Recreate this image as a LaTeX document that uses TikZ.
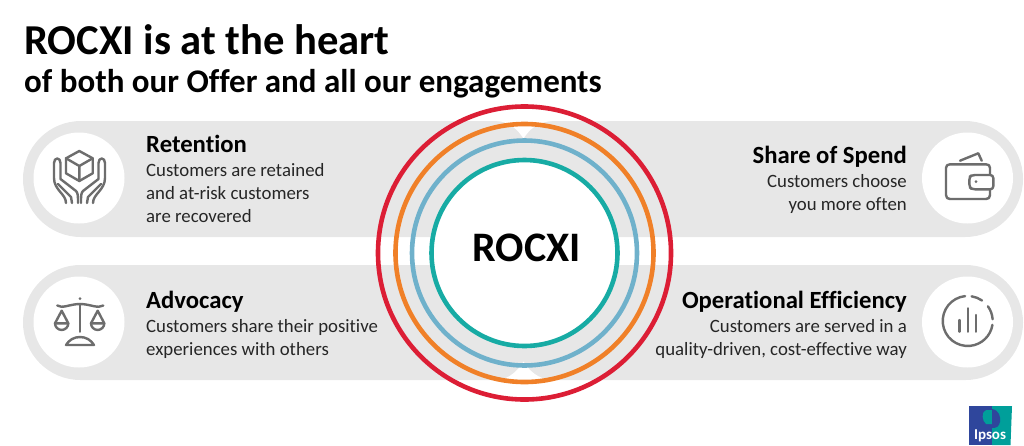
\documentclass[tikz,border=0pt]{standalone}
\usepackage{fontspec}
\setmainfont{Carlito}[Ligatures=NoCommon]
\definecolor{pillgray}{HTML}{E7E7E7}
\definecolor{icongray}{HTML}{6D6D6D}
\definecolor{ringred}{HTML}{DC1E35}
\definecolor{ringorange}{HTML}{F08028}
\definecolor{ringblue}{HTML}{6FB1CB}
\definecolor{ringteal}{HTML}{17ABA4}
\definecolor{ipblue}{HTML}{2F469C}
\definecolor{ipteal}{HTML}{009F9A}
\newcommand{\fsz}[2]{\fontsize{#1}{#2}\selectfont}
\tikzset{
  pill/.style={fill=pillgray},
  iconbg/.style={fill=white},
  icon/.style={draw=icongray,line width=2.4pt,line cap=round,line join=round},
  ring/.style={line width=4.6pt},
  headL/.style={anchor=base west,inner sep=0pt,font=\fsz{24.7}{28}\bfseries,text=black},
  headR/.style={anchor=base east,inner sep=0pt,font=\fsz{24.7}{28}\bfseries,text=black},
  bodyL/.style={anchor=north west,inner sep=0pt,align=left,font=\fsz{18.8}{23},text=black!85},
  bodyR/.style={anchor=north east,inner sep=0pt,align=right,font=\fsz{18.8}{23},text=black!85},
}
\begin{document}
\begin{tikzpicture}[x=1pt,y=-1pt]
\useasboundingbox (0,0) rectangle (1024,445);
% pills
\fill[pill] (23,179) arc[start angle=180,end angle=270,radius=58] -- (965,121) arc[start angle=270,end angle=450,radius=58] -- (81,237) arc[start angle=90,end angle=180,radius=58] -- cycle;
\fill[pill] (23,322.5) arc[start angle=180,end angle=270,radius=57.5] -- (965.5,265) arc[start angle=270,end angle=450,radius=57.5] -- (80.5,380) arc[start angle=90,end angle=180,radius=57.5] -- cycle;
% notches
\fill[white] (497,121) .. controls (510,122) and (518,130) .. (523.5,138.5) .. controls (529,130) and (537,122) .. (552,121) -- cycle;
\fill[white] (497,380) .. controls (510,379) and (518,370) .. (523.5,361.5) .. controls (529,370) and (537,379) .. (552,380) -- cycle;
% icon discs
\fill[iconbg] (79,178) circle[radius=45.5];
\fill[iconbg] (79,322) circle[radius=45.5];
\fill[iconbg] (967.5,178) circle[radius=45.5];
\fill[iconbg] (967.5,322) circle[radius=45.5];
% rings
\fill[white] (524.5,253) circle[radius=93];
\draw[ring,ringred] (524.5,253) circle[radius=146.5];
\draw[ring,ringorange] (524.5,253) circle[radius=129];
\draw[ring,ringblue] (524.5,253) circle[radius=112.5];
\draw[ring,ringteal] (524.5,253) circle[radius=93];
% retention icon
\draw[icon] (79.3,151) -- (92.7,158.3) -- (92.7,173.3) -- (79.3,181) -- (66,173.3) -- (66,158.3) -- cycle;
\draw[icon] (66,158.3) -- (79.3,166) -- (92.7,158.3) (79.3,166) -- (79.3,181);
\foreach \sx/\ox in {1/0,-1/159}{
\begin{scope}[xshift=\ox pt,xscale=\sx]
\draw[icon] (66,203) .. controls (66,194) and (54,190) .. (54,178) -- (54,163) .. controls (54,157) and (60.5,157) .. (60.5,163) -- (60.5,179) -- (76,191) .. controls (78,193) and (78,196) .. (78,203);
\draw[icon] (58,184) -- (71,197) -- (72,203);
\end{scope}}
% scale icon
\draw[icon] (57.3,305.5) .. controls (62,309) and (70,304) .. (80,304) .. controls (90,304) and (98,309) .. (103.3,305.5);
\draw[icon] (80,304) -- (80,331.7);
\fill[icongray] (80,298.7) circle[radius=1.5];
\draw[icon] (55,323.3) -- (61.7,310.7) -- (68.3,323.3) -- cycle;
\draw[icon] (55,323.3) arc[start angle=180,end angle=0,radius=6.65];
\draw[icon] (91,323.3) -- (97.7,310.7) -- (104.3,323.3) -- cycle;
\draw[icon] (91,323.3) arc[start angle=180,end angle=0,radius=6.65];
\draw[icon] (66,345) -- (94,345) .. controls (91,340) and (86,337) .. (80,337) .. controls (74,337) and (69,340) .. (66,345) -- cycle;
% wallet icon
\draw[icon] (990,174) -- (990,168) .. controls (990,165.5) and (988.5,164.3) .. (986,164.3) -- (950,164.3) .. controls (947.5,164.3) and (946,165.5) .. (946,168) -- (946,195) .. controls (946,197.7) and (947.5,199) .. (950,199) -- (986,199) .. controls (988.5,199) and (990,197.7) .. (990,195) -- (990,190);
\draw[icon,rounded corners=3pt] (993.3,175) -- (972,175) -- (969.3,177) -- (969.3,187) -- (972,189.3) -- (993.3,189.3) -- cycle;
\fill[icongray] (976,181.7) circle[radius=1.5];
\draw[icon] (960,160.7) -- (978.3,153.3) -- (981.7,160.7);
% chart icon
\draw[icon] (965.1,296.1) arc[start angle=-96,end angle=-351,radius=25];
\draw[icon] (971.6,296.3) arc[start angle=-81,end angle=-55,radius=25];
\draw[icon] (987.9,306.3) arc[start angle=-36,end angle=-4,radius=25];
\draw[icon] (959.3,320) -- (959.3,331.7) (967.7,308.3) -- (967.7,331.7) (976,315) -- (976,331.7);
% logo
\fill[ipblue] (969,406) -- (992,406) -- (992,445) -- (969,445) -- cycle;
\fill[ipteal] (992,406) -- (1012,406) -- (1010.5,445) -- (992,445) -- cycle;
\fill[ipteal] (986,410) .. controls (981,412) and (982,421) .. (986,424) -- (992,424) -- (992,410) -- cycle;
\fill[ipblue] (992,409) .. controls (999,410) and (1001,417) .. (1000,422) .. controls (999,427) and (996,428) .. (992,428) -- cycle;
\node[inner sep=0pt,anchor=base,text=white,font=\fsz{15}{18}\bfseries] (logo) at (990,439) {Ipsos};
% title
\node[anchor=base west,inner sep=0pt,font=\fsz{42.6}{46}\bfseries] (title) at (24,54) {ROCXI is at the heart};
\node[anchor=base west,inner sep=0pt,font=\fsz{33}{36}\bfseries] (subtitle) at (24,92) {of both our Offer and all our engagements};
% centre
\node[inner sep=0pt,font=\fsz{42}{46}\bfseries] (rocxi) at (526.5,248) {ROCXI};
% texts
\node[headL] (ret) at (146,152) {Retention};
\node[bodyL] (retb) at (146,163) {Customers are retained\\and at-risk customers\\are recovered};
\node[headL] (adv) at (146,308) {Advocacy};
\node[bodyL] (advb) at (146,319) {Customers share their positive\\experiences with others};
\node[headR] (sos) at (907,163) {Share of Spend};
\node[bodyR] (sosb) at (907,174.5) {Customers choose\\you more often};
\node[headR] (ope) at (907,308) {Operational Efficiency};
\node[bodyR] (opeb) at (907,319) {Customers are served in a\\quality-driven, cost-effective way};
\end{tikzpicture}
\end{document}
